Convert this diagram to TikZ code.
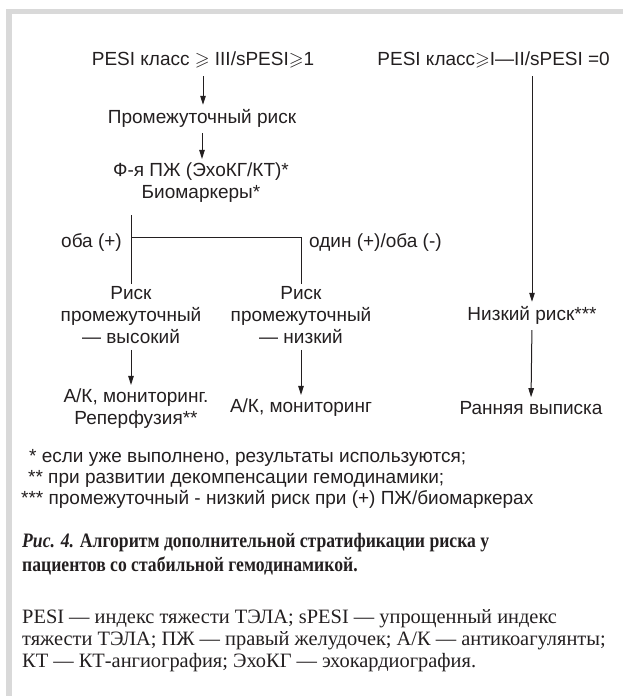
\documentclass[tikz,border=0pt]{standalone}
\usepackage{fontspec}
\usepackage{amssymb}
\setmainfont{Liberation Serif}
\setsansfont{Liberation Sans}
\newfontfamily\capfont[FakeStretch=0.86]{Liberation Serif}
\usetikzlibrary{arrows.meta}
\definecolor{ink}{HTML}{231F20}
\definecolor{framegray}{HTML}{D9D9D9}
\begin{document}
\begin{tikzpicture}[x=1pt,y=-1pt,
  txt/.style={font=\sffamily\fontsize{19}{22}\selectfont, text=ink, align=center, inner sep=0pt},
  note/.style={font=\sffamily\fontsize{19}{22}\selectfont, text=ink, inner sep=0pt, anchor=base west},
  capt/.style={font=\capfont\bfseries\fontsize{20.5}{24}\selectfont, text=ink, inner sep=0pt, anchor=base west},
  legend/.style={font=\fontsize{20.4}{22}\selectfont, text=ink, inner sep=0pt, anchor=base west},
  conn/.style={draw=ink, line width=1pt},
  arr/.style={conn, -{Triangle[length=9pt,width=5.5pt]}}]
\useasboundingbox (0,0) rectangle (623,696);
\fill[framegray] (6,9) rectangle (623,14);
\fill[framegray] (6,9) rectangle (12,696);

% left column
\node[txt] (h1) at (203,60) {PESI класс $\geqslant$ III/sPESI$\geqslant$1};
\node[txt] (n1) at (202,118) {Промежуточный риск};
\node[txt] (n2) at (201,183) {Ф-я ПЖ (ЭхоКГ/КТ)*\\Биомаркеры*};
\node[txt] (l1) at (131,315) {Риск\\промежуточный\\— высокий};
\node[txt] (l2) at (301,315) {Риск\\промежуточный\\— низкий};
\node[txt] (a1) at (136,409) {А/К, мониторинг.\\Реперфузия**};
\node[txt] (a2) at (301,408) {А/К, мониторинг};

% right column
\node[txt, anchor=east] (h2) at (610,60) {PESI класс$\geqslant$I—II/sPESI =0};
\node[txt] (r1) at (532,315) {Низкий риск***};
\node[txt] (r2) at (531,408) {Ранняя выписка};

\coordinate (hy) at (0,237);

\draw[arr, shorten <=8pt, shorten >=4pt] (h1.south) -- (h1.south |- n1.north);
\draw[arr, shorten <=6pt, shorten >=4pt] (n1.south) -- (n1.south |- n2.north);
\draw[conn] ([yshift=-12pt]n2.south -| l1.north) -- ([yshift=2pt]l1.north);
\draw[conn] (l1.north |- hy) -- (l2.north |- hy) -- ([yshift=2pt]l2.north);
\node[txt, anchor=east] (both) at ([xshift=-9pt,yshift=-5pt]l1.north |- hy) {оба (+)};
\node[txt, anchor=west] (one) at ([xshift=8pt,yshift=-5pt]l2.north |- hy) {один (+)/оба (-)};
\draw[arr, shorten <=6pt, shorten >=4pt] (l1.south) -- (l1.south |- a1.north);
\draw[arr, shorten <=6pt, shorten >=4pt] (l2.south) -- (l2.south |- a2.north);

\draw[arr, shorten <=8pt, shorten >=4pt] (r1.north |- h2.south) -- (r1.north);
\draw[arr, shorten <=6pt, shorten >=4pt] (r1.south) -- (r2.north);

% footnotes
\node[note] (f1) at (29,462) {* если уже выполнено, результаты используются;};
\node[note] (f2) at (28,483) {** при развитии декомпенсации гемодинамики;};
\node[note] (f3) at (21,504) {*** промежуточный - низкий риск при (+) ПЖ/биомаркерах};

% caption
\node[capt] (cap1) at (22,547) {\textit{Рис. 4.} Алгоритм дополнительной стратификации риска у};
\node[capt] (cap2) at (22,571) {пациентов со стабильной гемодинамикой.};

% legend
\node[legend] (leg1) at (22,623) {PESI — индекс тяжести ТЭЛА; sPESI — упрощенный индекс};
\node[legend] (leg2) at (22,645) {тяжести ТЭЛА; ПЖ — правый желудочек; А/К — антикоагулянты;};
\node[legend] (leg3) at (22,667) {КТ — КТ-ангиография; ЭхоКГ — эхокардиография.};
\end{tikzpicture}
\end{document}
